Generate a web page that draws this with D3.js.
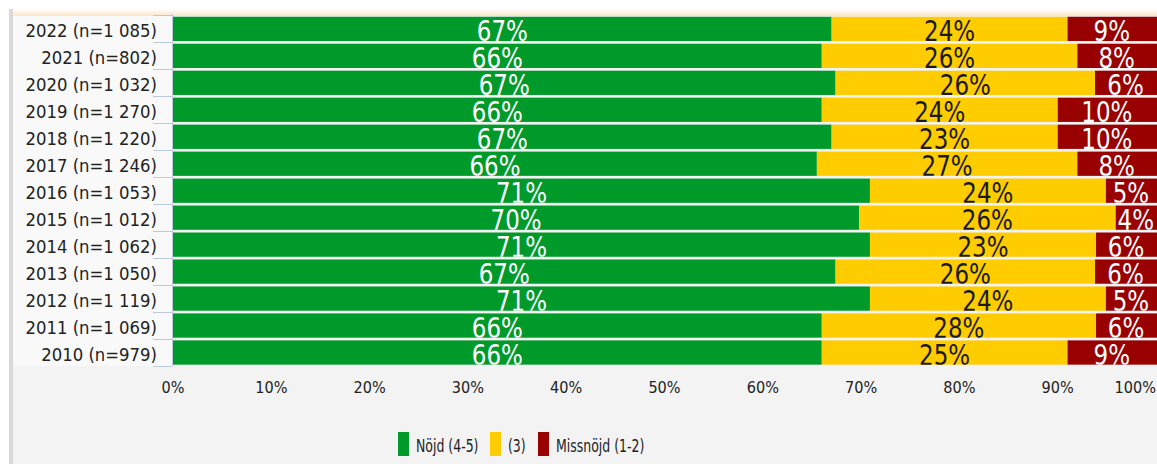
<!DOCTYPE html>
<html>
<head>
<meta charset="utf-8">
<script src="https://cdn.jsdelivr.net/npm/d3@7"></script>
<style>
  html, body { margin: 0; padding: 0; background: #fff; }
  svg { display: block; }
  text { font-family: "DejaVu Sans", Verdana, sans-serif; }
</style>
</head>
<body>
<svg id="chart" width="1157" height="464"></svg>
<script>
// år och antal svar
const YEARS = ["2022 (n=1 085)", "2021 (n=802)", "2020 (n=1 032)", "2019 (n=1 270)", "2018 (n=1 220)",
  "2017 (n=1 246)", "2016 (n=1 053)", "2015 (n=1 012)", "2014 (n=1 062)", "2013 (n=1 050)",
  "2012 (n=1 119)", "2011 (n=1 069)", "2010 (n=979)"];
const NOJD      = [67.0, 66.0, 67.4, 66.0, 67.0, 65.5, 70.9, 69.8, 70.9, 67.4, 70.9, 66.0, 66.0];
const NEUTRAL   = [24.0, 26.0, 26.4, 24.0, 23.0, 26.5, 24.0, 26.1, 23.0, 26.4, 24.0, 27.9, 25.0];
const MISSNOJD  = [9.0, 8.0, 6.2, 10.0, 10.0, 8.0, 5.1, 4.1, 6.1, 6.2, 5.1, 6.1, 9.0];
const SERIES = ["Nöjd (4-5)", "(3)", "Missnöjd (1-2)"];
const COLORS = ["#009a2b", "#ffcc00", "#990000"];
const TEXTCOL = ["#ffffff", "#1a1a1a", "#ffffff"];
const TICKS = [0, 10, 20, 30, 40, 50, 60, 70, 80, 90, 100];

const svg = d3.select("#chart");
const W = 1157, H = 464;

// bakgrund / ram
const defs = svg.append("defs");
const grad = defs.append("linearGradient").attr("id", "topband").attr("x1", 0).attr("x2", 0).attr("y1", 0).attr("y2", 1);
grad.append("stop").attr("offset", 0).attr("stop-color", "#ffffff");
grad.append("stop").attr("offset", 1).attr("stop-color", "#fce6c4");
svg.append("rect").attr("x", 13).attr("y", 9).attr("width", W - 13).attr("height", 7).attr("fill", "url(#topband)");
svg.append("rect").attr("x", 13).attr("y", 16).attr("width", W - 13).attr("height", H - 16).attr("fill", "#f3f3f3");
svg.append("rect").attr("x", 13).attr("y", 16).attr("width", 160).attr("height", 350).attr("fill", "#f9f9f9");
svg.append("rect").attr("x", 9).attr("y", 9).attr("width", 4).attr("height", H - 9).attr("fill", "#d9d9d9");

const x = d3.scaleLinear().domain([0, 100]).range([173, 1156]);
const y = d3.scaleBand().domain(YEARS).range([15.4, 366]).paddingInner(0.1).paddingOuter(0.05);

// axellinje och streck vid etiketterna
const axisCol = "#bccadb";
svg.append("line").attr("x1", 172.5).attr("x2", 172.5).attr("y1", 14).attr("y2", 366).attr("stroke", axisCol);
const bounds = YEARS.map((d) => y(d) - y.step() * 0.05).concat([y(YEARS[YEARS.length - 1]) + y.bandwidth() + y.step() * 0.05]);
svg.append("g").selectAll("line").data(bounds).join("line")
  .attr("x1", 153).attr("x2", 172).attr("y1", (d) => Math.round(d) + 0.5).attr("y2", (d) => Math.round(d) + 0.5)
  .attr("stroke", axisCol);

// radetiketter
svg.append("g").selectAll("text").data(YEARS).join("text")
  .attr("transform", (d) => `translate(157,${y(d) + y.bandwidth() / 2 + 8}) scale(1,1.08)`)
  .attr("text-anchor", "end").attr("font-size", 16.5).attr("fill", "#222")
  .text((d) => d);

// staplade segment
const rows = YEARS.map((yr, i) => {
  const vals = [NOJD[i], NEUTRAL[i], MISSNOJD[i]];
  let acc = 0;
  return { yr, segs: vals.map((v, k) => { const s = { k, v, x0: acc, x1: acc + v }; acc += v; return s; }) };
});

rows.forEach((r, i) => {
  defs.append("clipPath").attr("id", "clip" + i).append("rect")
    .attr("x", x(0)).attr("y", y(r.yr)).attr("width", x(100) - x(0) + 2).attr("height", y.bandwidth());
});

const rowG = svg.append("g").selectAll("g").data(rows).join("g");
rowG.selectAll("rect").data((d) => d.segs).join("rect")
  .attr("x", (d) => x(d.x0)).attr("width", (d, k) => k === 2 ? W - x(d.x0) : x(d.x1) - x(d.x0))
  .attr("y", function () { return y(d3.select(this.parentNode).datum().yr); })
  .attr("height", y.bandwidth())
  .attr("fill", (d) => COLORS[d.k]);

rowG.each(function (r, i) {
  d3.select(this).append("g").attr("clip-path", `url(#clip${i})`)
    .selectAll("text").data(r.segs).join("text")
    .attr("transform", (d) => `translate(${(x(d.x0) + Math.min(x(d.x1), W)) / 2},${y(r.yr) + y.bandwidth() + 0.3}) scale(1,1.2)`)
    .attr("text-anchor", "middle").attr("font-size", 23).attr("fill", (d) => TEXTCOL[d.k])
    .text((d) => Math.round(d.v) + "%");
});

// x-axelns etiketter
svg.append("g").selectAll("text").data(TICKS).join("text")
  .attr("transform", (d) => `translate(${d === 100 ? 1156 : x(d)},393) scale(1,1.12)`)
  .attr("text-anchor", (d) => d === 100 ? "end" : "middle")
  .attr("font-size", 14.5).attr("fill", "#222")
  .text((d) => d + "%");

// förklaring
const legX = [398, 490, 538];
const leg = svg.append("g").selectAll("g").data(SERIES).join("g")
  .attr("transform", (d, i) => `translate(${legX[i]},432)`);
leg.append("rect").attr("width", 11).attr("height", 24).attr("fill", (d, i) => COLORS[i]);
leg.append("text").attr("transform", "translate(18,19.5) scale(1,1.4)")
  .attr("font-size", 12.5).attr("fill", "#222").text((d) => d);
</script>
</body>
</html>
